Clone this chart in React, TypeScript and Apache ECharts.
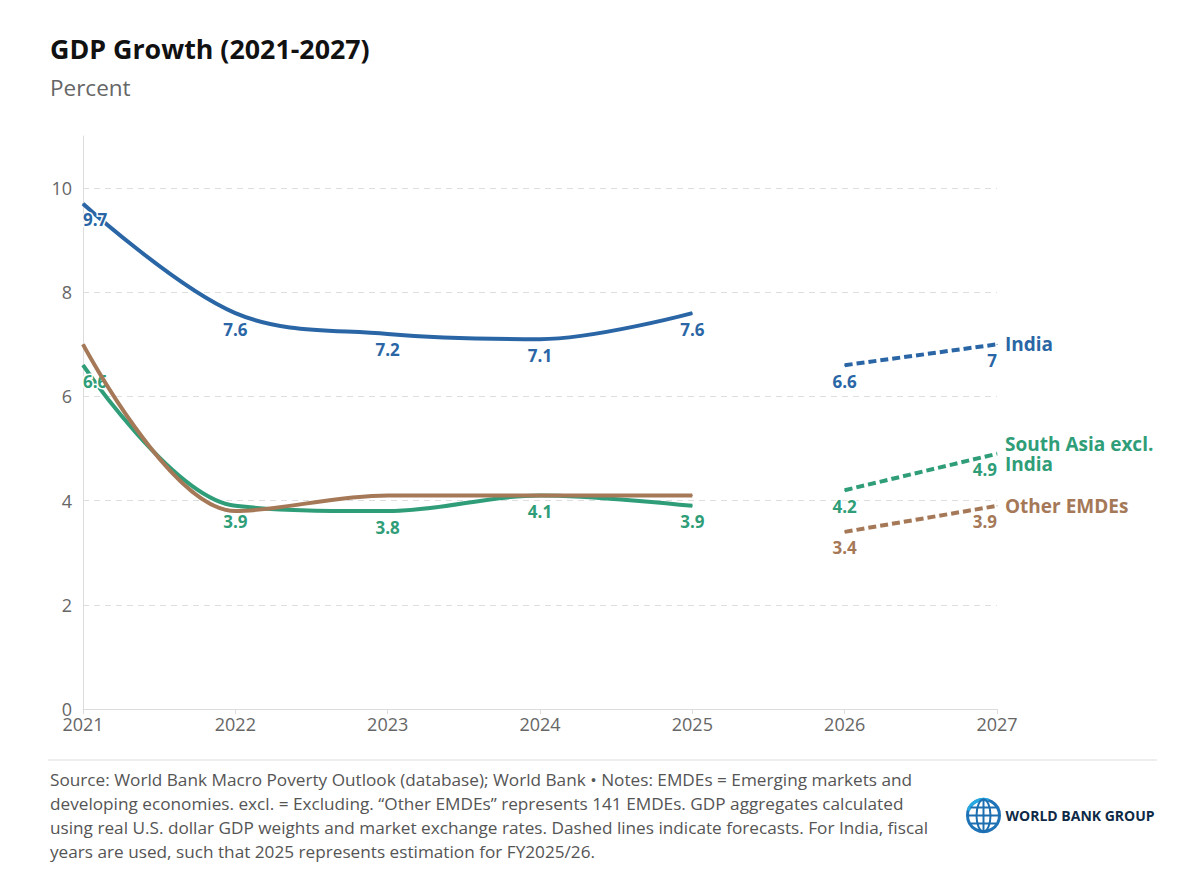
import React, { useEffect, useRef } from "react";
import * as echarts from "echarts";

const years = [2021, 2022, 2023, 2024, 2025, 2026, 2027];
const actualYears = [2021, 2022, 2023, 2024, 2025];
const forecastYears = [2026, 2027];

const indiaActual = [9.7, 7.6, 7.2, 7.1, 7.6];
const indiaForecast = [6.6, 7.0];
const southAsiaActual = [6.6, 3.9, 3.8, 4.1, 3.9];
const southAsiaForecast = [4.2, 4.9];
const otherActual = [7.0, 3.8, 4.1, 4.1, 4.1];
const otherForecast = [3.4, 3.9];

const yTicks = [0, 2, 4, 6, 8, 10];

const BLUE = "#2a66a5";
const GREEN = "#2f9e78";
const BROWN = "#a57857";
const FONT = "'Open Sans', 'Noto Sans', sans-serif";

const footerLines = [
  "Source: World Bank Macro Poverty Outlook (database); World Bank • Notes: EMDEs = Emerging markets and",
  "developing economies. excl. = Excluding. “Other EMDEs” represents 141 EMDEs. GDP aggregates calculated",
  "using real U.S. dollar GDP weights and market exchange rates. Dashed lines indicate forecasts. For India, fiscal",
  "years are used, such that 2025 represents estimation for FY2025/26.",
];

function fmt(v: number) {
  return Number.isInteger(v) ? String(v) : v.toFixed(1);
}

function buildData(xs: number[], vs: number[], withLabels: boolean, firstAlign: string, lastAlign: string) {
  return xs.map((x, i) => {
    const align = i === 0 ? firstAlign : i === xs.length - 1 ? lastAlign : "center";
    return {
      value: [x, vs[i]],
      label: withLabels ? { show: true, align } : { show: false },
    };
  });
}

function pointLabel(color: string) {
  return {
    show: true,
    position: "bottom",
    distance: 7,
    color,
    fontFamily: FONT,
    fontWeight: "bold",
    fontSize: 17,
    textBorderColor: "#fff",
    textBorderWidth: 3,
    formatter: (p: any) => fmt(p.value[1]),
  };
}

function solidSeries(name: string, color: string, vs: number[], withLabels: boolean, z: number) {
  return {
    name,
    type: "line",
    data: buildData(actualYears, vs, withLabels, "left", "center"),
    smooth: 0.35,
    showSymbol: true,
    showAllSymbol: true,
    symbol: "circle",
    symbolSize: 1,
    itemStyle: { color },
    z,
    lineStyle: { color, width: 4 },
    label: pointLabel(color),
  };
}

function forecastSeries(name: string, endName: string, color: string, vs: number[], z: number) {
  return {
    name,
    type: "line",
    data: buildData(forecastYears, vs, true, "center", "right"),
    showSymbol: true,
    showAllSymbol: true,
    symbol: "circle",
    symbolSize: 1,
    itemStyle: { color },
    z,
    lineStyle: { color, width: 4, type: [8, 4] },
    label: pointLabel(color),
    endLabel: {
      show: true,
      formatter: endName,
      color,
      fontFamily: FONT,
      fontWeight: "bold",
      fontSize: 19,
      lineHeight: 20,
      distance: 8,
    },
  };
}

export default function App() {
  const ref = useRef<HTMLDivElement>(null);

  useEffect(() => {
    document.body.style.margin = "0";
    if (!ref.current) return;
    const chart = echarts.init(ref.current, undefined, { renderer: "svg" });

    const footerGraphics = footerLines.map((line, i) => ({
      type: "text",
      left: 50,
      top: 771 + i * 24,
      style: { text: line, font: `17.2px ${FONT}`, fill: "#555" },
    }));

    const grid = "#dedede";

    chart.setOption({
      animation: false,
      backgroundColor: "#fff",
      grid: { left: 83, right: 203, top: 136, bottom: 182, containLabel: false },
      xAxis: {
        type: "value",
        min: years[0],
        max: years[years.length - 1],
        interval: 1,
        axisLine: { show: true, lineStyle: { color: "#dcdcdc", width: 1 } },
        axisTick: { show: true, length: 5, lineStyle: { color: "#dcdcdc" } },
        splitLine: { show: false },
        axisLabel: {
          formatter: (v: number) => String(v),
          color: "#666",
          fontSize: 18,
          fontFamily: FONT,
          margin: 6,
        },
      },
      yAxis: {
        type: "value",
        min: 0,
        max: 11,
        interval: 2,
        axisLine: { show: true, lineStyle: { color: "#dcdcdc", width: 1 } },
        axisTick: { show: false },
        splitLine: {
          show: true,
          lineStyle: {
            color: [grid, grid, grid, grid, grid, grid, "rgba(0,0,0,0)"],
            type: [6, 5],
          },
        },
        axisLabel: {
          formatter: (v: number) => (yTicks.includes(v) ? String(v) : ""),
          showMaxLabel: false,
          color: "#666",
          fontSize: 18,
          fontFamily: FONT,
          margin: 11,
        },
      },
      series: [
        solidSeries("India", BLUE, indiaActual, true, 3),
        forecastSeries("India forecast", "India", BLUE, indiaForecast, 3),
        solidSeries("South Asia excl. India", GREEN, southAsiaActual, true, 2),
        forecastSeries("South Asia excl. India forecast", "South Asia excl.\nIndia", GREEN, southAsiaForecast, 2),
        solidSeries("Other EMDEs", BROWN, otherActual, false, 4),
        forecastSeries("Other EMDEs forecast", "Other EMDEs", BROWN, otherForecast, 4),
      ],
      graphic: [
        {
          type: "text",
          left: 50,
          top: 35,
          style: { text: "GDP Growth (2021-2027)", font: `bold 26.8px ${FONT}`, fill: "#111" },
        },
        {
          type: "text",
          left: 50,
          top: 76,
          style: { text: "Percent", font: `22.5px ${FONT}`, fill: "#666" },
        },
        {
          type: "line",
          shape: { x1: 48, y1: 760, x2: 1157, y2: 760 },
          style: { stroke: "#dddddd", lineWidth: 1 },
        },
        ...footerGraphics,
        {
          type: "group",
          left: 965,
          top: 797,
          children: [
            { type: "circle", shape: { cx: 18, cy: 18, r: 16 }, style: { fill: "none", stroke: "#1f74b7", lineWidth: 3 } },
            { type: "arc", shape: { cx: 18, cy: 18, r: 16, startAngle: Math.PI * 1.1, endAngle: Math.PI * 1.6 }, style: { fill: "none", stroke: "#27a9e1", lineWidth: 3.2 } },
            { type: "ellipse", shape: { cx: 18, cy: 18, rx: 7, ry: 16 }, style: { fill: "none", stroke: "#1d6fb0", lineWidth: 2 } },
            { type: "line", shape: { x1: 18, y1: 2, x2: 18, y2: 34 }, style: { stroke: "#1d6fb0", lineWidth: 2 } },
            { type: "line", shape: { x1: 2, y1: 18, x2: 34, y2: 18 }, style: { stroke: "#1d6fb0", lineWidth: 2 } },
            { type: "line", shape: { x1: 5, y1: 10, x2: 31, y2: 10 }, style: { stroke: "#1d6fb0", lineWidth: 2 } },
            { type: "line", shape: { x1: 5, y1: 26, x2: 31, y2: 26 }, style: { stroke: "#1d6fb0", lineWidth: 2 } },
            {
              type: "text",
              x: 40,
              y: 18,
              style: {
                text: "WORLD BANK GROUP",
                font: `bold 14px ${FONT}`,
                fill: "#0e2a47",
                textVerticalAlign: "middle",
              },
            },
          ],
        },
      ],
    });

    return () => chart.dispose();
  }, []);

  return <div ref={ref} style={{ width: 1200, height: 891 }} />;
}
